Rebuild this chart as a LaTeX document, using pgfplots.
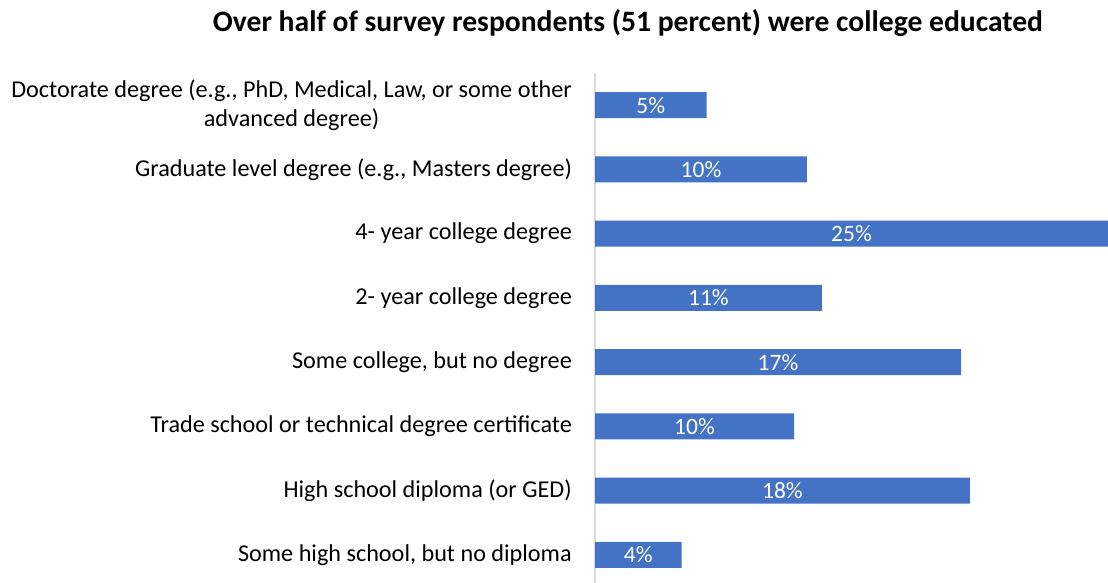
\documentclass[border=0pt]{standalone}
\usepackage{pgfplots}
\pgfplotsset{compat=1.18}
\usepackage{pgfplotstable}
\usepackage{fontspec}
\setmainfont{Carlito}
\definecolor{barblue}{HTML}{4472C4}
\definecolor{axisgray}{HTML}{D9D9D9}

\pgfplotstableread{
y v lab
7 5.44 5
6 10.33 10
5 25.00 25
4 11.06 11
3 17.84 17
2 9.70 10
1 18.27 18
0 4.22 4
}\datatable

\begin{document}
\begin{tikzpicture}[x=1pt,y=1pt]
\clip (0,0) rectangle (1108,582);
\node[font=\bfseries\fontsize{29.6}{34}\selectfont, anchor=base] at (628,550) {Over half of survey respondents (51 percent) were college educated};
\begin{axis}[
  at={(595pt,-5pt)}, anchor=south west,
  scale only axis, width=513pt, height=514pt,
  xmin=0, xmax=25, ymin=-0.5, ymax=7.5,
  axis x line=none, axis y line*=left,
  y axis line style={-, draw=axisgray, line width=1.5pt},
  ytick={0,...,7},
  yticklabels={{Some high school, but no diploma},
    {High school diploma (or GED)},
    {Trade school or technical degree certificate},
    {Some college, but no degree},
    {2- year college degree},
    {4- year college degree},
    {Graduate level degree (e.g., Masters degree)},
    {Doctorate degree (e.g., PhD, Medical, Law, or some other\\advanced degree)}},
  major tick length=0pt,
  yticklabel style={font=\fontsize{24.2}{29.5}\selectfont, align=center, inner sep=0pt, xshift=-23pt, text=black},
]
\addplot[xbar, bar width=26pt, bar shift=0pt, fill=barblue, draw=none] table[x=v, y=y] {\datatable};
\addplot[only marks, mark=none, nodes near coords={\pgfplotspointmeta\%}, point meta=explicit symbolic,
  nodes near coords style={anchor=center, text=white, font=\fontsize{23.5}{28}\selectfont}]
  table[x expr=\thisrow{v}/2, y=y, meta=lab] {\datatable};
\end{axis}
\end{tikzpicture}
\end{document}
